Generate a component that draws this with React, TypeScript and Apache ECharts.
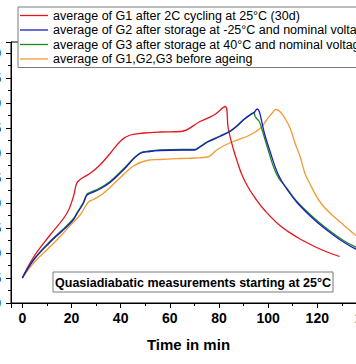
import React, { useEffect, useRef } from "react";
import * as echarts from "echarts";

const seriesNames = [
  "average of G1 after 2C cycling at 25°C (30d)",
  "average of G2 after storage at -25°C and nominal voltage",
  "average of G3 after storage at 40°C and nominal voltage",
  "average of G1,G2,G3 before ageing",
];
const seriesColors = ["#e8141c", "#1c1cc8", "#1a8a1a", "#f39a33"];

const g1Time = [0, 4.6, 11.3, 18.1, 20.8, 22.1, 23.5, 27.5, 31.6, 35.7, 40.4, 44, 49.5, 56, 64.5, 72.3, 78, 82.5, 83.8, 85.8, 87.9, 89.3, 91.7, 95, 98.5, 105.3, 112, 118.9, 124, 129.1];
const g1Temp = [25, 29.2, 33.6, 37.9, 41.3, 43.9, 44.7, 45.9, 47.6, 49.9, 52.6, 53.6, 54, 54.2, 54.3, 56.3, 57.6, 59.3, 54.9, 50.9, 47.6, 45.7, 43.3, 40.8, 38.6, 35.3, 33.1, 31.3, 30.2, 29.3];

const g2Time = [0, 4.6, 11.4, 16, 20.7, 22.3, 24.8, 26.2, 27.5, 31.6, 35.7, 41.1, 47.9, 51.9, 56, 64.5, 70, 72.3, 75.4, 80.4, 84.5, 87.2, 89.9, 92.6, 94.3, 95.6, 96.4, 97.4, 98.7, 100.8, 104.1, 108, 112.1, 118.9, 125.7, 131, 136.3, 140];
const g2Temp = [25, 28.6, 32.2, 34.3, 36.6, 37.9, 39.9, 41.5, 41.9, 42.8, 44.1, 46.6, 49.9, 50.3, 50.5, 50.6, 50.6, 51.2, 52.2, 53.3, 54.3, 55.3, 56.6, 57.6, 58.1, 58.8, 58.3, 56.3, 53.6, 50.3, 45.7, 42.5, 39.9, 36.6, 33.9, 32.1, 30.6, 29.8];

const g3Time = [0, 4.6, 11.4, 16, 20.7, 22.3, 24.8, 26.2, 27.5, 31.6, 35.7, 41.1, 47.9, 51.9, 56, 64.5, 70, 72.3, 75.4, 80.4, 84.5, 87.2, 89.9, 92.6, 94.3, 94.7, 96.4, 97.4, 99.4, 103.5, 108, 112.1, 118.9, 125.7, 131, 136.3, 140];
const g3Temp = [25, 28.7, 32.4, 34.5, 36.8, 38.1, 40.1, 41.7, 42.1, 43.0, 44.3, 46.8, 50.0, 50.4, 50.6, 50.7, 50.7, 51.3, 52.3, 53.4, 54.4, 55.4, 56.6, 57.6, 58.1, 57.3, 56.3, 54.9, 51.6, 45.7, 42.7, 40.1, 36.9, 34.2, 32.4, 31.0, 30.2];

const g0Time = [0, 4.6, 11.4, 16, 20, 23.5, 26.9, 28.9, 32.9, 38.4, 45.2, 50.6, 56, 64.5, 70, 75.4, 79.1, 82.2, 85.8, 92.6, 96.7, 99.4, 101.5, 103.2, 104.8, 106.9, 109, 111, 112, 113, 115, 116.2, 121.6, 128.4, 136.3, 140];
const g0Temp = [25, 28, 31.3, 33.6, 35.8, 37.6, 40.2, 40.7, 41.9, 44.4, 47.4, 48.5, 48.7, 48.9, 49.0, 49.2, 50.6, 51.5, 52.3, 53.6, 54.9, 56.6, 57.9, 58.7, 58.3, 56.9, 54.9, 51.9, 50.6, 49.3, 45.9, 44.6, 39.9, 36.6, 33.3, 32.3];

const xAxisTitle = "Time in min";
const noteText = "Quasiadiabatic measurements starting at 25°C";

const pair = (t: number[], v: number[]) => t.map((x, i) => [x, v[i]]);

export default function App() {
  const ref = useRef<HTMLDivElement>(null);
  useEffect(() => {
    if (!ref.current) return;
    const chart = echarts.init(ref.current, null, { renderer: "svg" });
    const font = "'Liberation Sans', Arial, sans-serif";
    const data = [pair(g1Time, g1Temp), pair(g2Time, g2Temp), pair(g3Time, g3Temp), pair(g0Time, g0Temp)];
    chart.setOption({
      animation: false,
      grid: {
        left: 11,
        top: 42,
        bottom: 61,
        right: -35,
        containLabel: false,
        outerBoundsMode: "none",
        show: true,
        borderColor: "#000",
        borderWidth: 1,
        backgroundColor: "transparent",
      },
      legend: {
        orient: "vertical",
        left: 18,
        top: 7,
        padding: [2, 60, 2, 2],
        itemWidth: 28,
        itemHeight: 14,
        itemGap: 1.5,
        icon: "path://M0,0 L28,0 L28,1.3 L0,1.3 Z",
        backgroundColor: "#fff",
        borderColor: "#7a7a7a",
        borderWidth: 1,
        borderRadius: 0,
        textStyle: { fontFamily: font, fontSize: 12.5, color: "#000" },
        data: seriesNames,
      },
      xAxis: {
        type: "value",
        min: -4.6,
        max: 150,
        minInterval: 20,
        maxInterval: 20,
        splitNumber: 7,
        splitLine: { show: false },
        axisLine: { show: true, onZero: false, lineStyle: { color: "#000", width: 1 } },
        axisTick: { show: true, inside: false, length: 5, lineStyle: { color: "#000" } },
        minorTick: { show: true, splitNumber: 2, length: 3, lineStyle: { color: "#000" } },
        axisLabel: {
          showMinLabel: false,
          showMaxLabel: false,
          hideOverlap: false,
          margin: 8,
          fontFamily: font,
          fontSize: 14,
          fontWeight: "bold",
          color: "#000",
        },
      },
      yAxis: {
        type: "value",
        min: 20,
        max: 72.2,
        interval: 5,
        splitLine: { show: false },
        axisLine: { show: true, onZero: false, lineStyle: { color: "#000", width: 1 } },
        axisTick: { show: true, inside: false, length: 5, lineStyle: { color: "#000" } },
        minorTick: { show: true, splitNumber: 2, length: 3, lineStyle: { color: "#000" } },
        axisLabel: {
          showMaxLabel: false,
          margin: 10,
          fontFamily: font,
          fontSize: 14,
          fontWeight: "bold",
          color: "#000",
        },
      },
      series: seriesNames.map((name, i) => ({
        name,
        type: "line",
        data: data[i],
        showSymbol: false,
        symbol: "none",
        smooth: 0.4,
        color: seriesColors[i],
        itemStyle: { color: seriesColors[i] },
        lineStyle: { color: seriesColors[i], width: 1.3 },
        z: i === 3 ? 1 : i === 1 ? 3 : 2,
      })),
      graphic: [
        {
          type: "rect",
          shape: { x: 53, y: 272, width: 280, height: 20 },
          style: { fill: "#fff", stroke: "#7a7a7a", lineWidth: 1 },
          z: 10,
        },
        {
          type: "text",
          x: 193,
          y: 282.5,
          style: {
            text: noteText,
            fontFamily: font,
            fontSize: 12.5,
            fontWeight: "bold",
            fill: "#000",
            align: "center",
            verticalAlign: "middle",
          },
          z: 11,
        },
        {
          type: "text",
          x: 188.5,
          y: 344,
          style: {
            text: xAxisTitle,
            fontFamily: font,
            fontSize: 15,
            fontWeight: "bold",
            fill: "#000",
            align: "center",
            verticalAlign: "middle",
          },
          z: 11,
        },
      ],
    });
    return () => chart.dispose();
  }, []);
  return (
    <div
      ref={ref}
      style={{ position: "fixed", left: 0, top: 0, width: 356, height: 364, overflow: "hidden", background: "#fff" }}
    />
  );
}
